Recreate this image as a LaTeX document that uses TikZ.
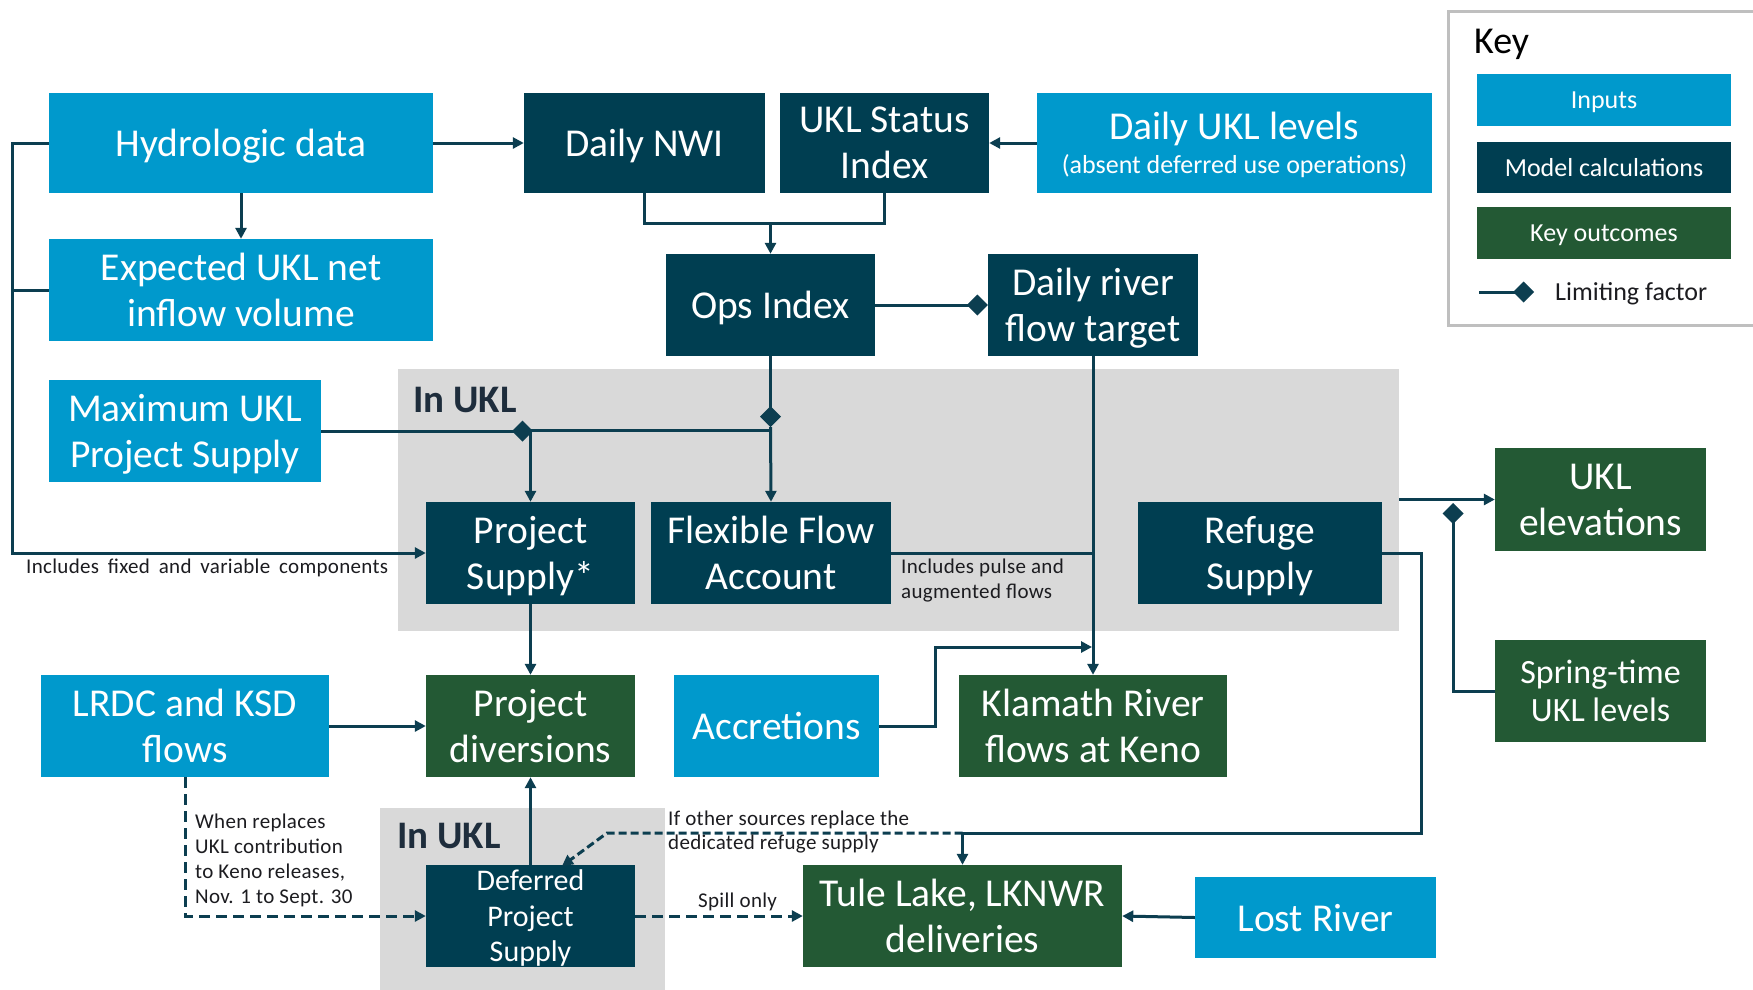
\documentclass[tikz,border=0pt]{standalone}
\usepackage{fontspec}
\setmainfont{Carlito}
\newfontfamily\notefam[LetterSpace=1.5]{Carlito}
\usetikzlibrary{arrows.meta}
\definecolor{inp}{RGB}{0,153,204}
\definecolor{calc}{RGB}{0,62,81}
\definecolor{outc}{RGB}{35,89,52}
\definecolor{ln}{RGB}{12,62,80}
\definecolor{grayarea}{RGB}{217,217,217}
\definecolor{keyframe}{RGB}{191,191,191}
\definecolor{notecol}{RGB}{28,28,32}
\definecolor{ukltxt}{RGB}{30,45,60}
\newcommand{\bigf}{\fontsize{39.5}{46}\selectfont}
\newcommand{\midf}{\fontsize{30}{35.5}\selectfont}
\newcommand{\sprf}{\fontsize{34}{38}\selectfont}
\newcommand{\subf}{\fontsize{26}{30}\selectfont}
\newcommand{\keyf}{\fontsize{26}{30}\selectfont}
\newcommand{\notef}{\notefam\fontsize{21}{25}\selectfont}
\newcommand{\uklf}{\fontsize{39}{44}\selectfont\bfseries}
\begin{document}
\begin{tikzpicture}[x=1pt,y=-1pt,
  nbox/.style={rectangle, inner sep=0pt, text=white, align=center, font=\bigf, text depth=0pt},
  inbox/.style={nbox, fill=inp},
  calcbox/.style={nbox, fill=calc},
  outbox/.style={nbox, fill=outc},
  regionbox/.style={rectangle, fill=grayarea, inner sep=0pt, anchor=north west},
  conn/.style={draw=ln, line width=3pt},
  arr/.style={conn, -{Triangle[length=11pt,width=11pt]}},
  lim/.style={conn, -{Diamond[length=21pt,width=21pt]}},
  dashA/.style={dash pattern=on 11pt off 6pt},
  dashB/.style={dash pattern=on 8pt off 4pt},
  notetxt/.style={anchor=base west, inner sep=0pt, font=\notef, text=notecol},
  ukllab/.style={anchor=base west, inner sep=0pt, font=\uklf, text=ukltxt}
]
\useasboundingbox (0,0) rectangle (1753,989);
\fill[white] (0,0) rectangle (1753,989);

% grey regions
\node[regionbox, minimum width=1001pt, minimum height=262pt] (g1) at (398,369) {};
\node[regionbox, minimum width=285pt, minimum height=185pt] (g2) at (380,808) {};
\node[ukllab] (ukl1) at (413,412) {In UKL};
\node[ukllab] (ukl2) at (397,848) {In UKL};

% key
\node[rectangle, draw=keyframe, line width=3pt, anchor=north west, minimum width=330pt, minimum height=314pt, inner sep=0pt] (keybox) at (1447,10) {};
\node[anchor=base west, inner sep=0pt, font=\fontsize{38}{42}\selectfont, text=black] (ktitle) at (1474,53) {Key};
\node[inbox, font=\keyf, minimum width=254pt, minimum height=52pt] (kin) at (1604,100) {Inputs};
\node[calcbox, font=\keyf, minimum width=254pt, minimum height=51pt] (kcalc) at (1604,167.5) {Model calculations};
\node[outbox, font=\keyf, minimum width=254pt, minimum height=52pt] (kout) at (1604,233) {Key outcomes};
\coordinate (kl1) at (1479,292);
\coordinate (kl2) at (1534,292);
\draw[lim] (kl1) -- (kl2);
\node[anchor=base west, inner sep=0pt, font=\keyf, text=notecol] (klab) at (1555,300) {Limiting factor};

% boxes
\node[inbox, minimum width=384pt, minimum height=100pt] (hyd) at (241,143) {Hydrologic data};
\node[inbox, minimum width=384pt, minimum height=102pt] (exp) at (241,290) {Expected UKL net\\inflow volume};
\node[inbox, minimum width=272pt, minimum height=102pt] (maxp) at (185,431) {Maximum UKL\\Project Supply};
\node[calcbox, minimum width=241pt, minimum height=100pt] (nwi) at (644.5,143) {Daily NWI};
\node[calcbox, minimum width=209pt, minimum height=100pt] (status) at (884.5,143) {UKL Status\\Index};
\node[inbox, minimum width=395pt, minimum height=100pt] (dukl) at (1234.5,143) {Daily UKL levels\\[-12pt]{\subf (absent deferred use operations)}};
\node[calcbox, minimum width=209pt, minimum height=102pt] (ops) at (770.5,305) {Ops Index};
\node[calcbox, minimum width=210pt, minimum height=102pt] (drf) at (1093,305) {Daily river\\flow target};
\node[calcbox, minimum width=209pt, minimum height=102pt] (psup) at (530.5,553) {Project\\Supply*};
\node[calcbox, minimum width=240pt, minimum height=102pt] (ffa) at (771,553) {Flexible Flow\\Account};
\node[calcbox, minimum width=244pt, minimum height=102pt] (refuge) at (1260,553) {Refuge\\Supply};
\node[outbox, minimum width=211pt, minimum height=103pt] (ukle) at (1600.5,499.5) {UKL\\elevations};
\node[outbox, font=\sprf, minimum width=211pt, minimum height=102pt] (spring) at (1600.5,691) {Spring-time\\UKL levels};
\node[inbox, minimum width=288pt, minimum height=102pt] (lrdc) at (185,726) {LRDC and KSD\\flows};
\node[outbox, minimum width=209pt, minimum height=102pt] (pdiv) at (530.5,726) {Project\\diversions};
\node[inbox, minimum width=205pt, minimum height=102pt] (accr) at (776.5,726) {Accretions};
\node[outbox, minimum width=268pt, minimum height=102pt] (keno) at (1093,726) {Klamath River\\flows at Keno};
\node[calcbox, font=\midf, minimum width=209pt, minimum height=102pt] (dps) at (530.5,916) {Deferred\\Project\\Supply};
\node[outbox, minimum width=319pt, minimum height=102pt] (tule) at (962.5,916) {Tule Lake, LKNWR\\deliveries};
\node[inbox, minimum width=241pt, minimum height=81pt] (lost) at (1315.5,917.5) {Lost River};

% connectors
\coordinate (lb) at (12,553);
\draw[arr] (hyd.west) -| (lb) -- (psup.west);
\draw[conn] (exp.west) -- (exp.west -| lb);
\draw[arr] (hyd.east) -- (nwi.west);
\draw[arr] (hyd.south) -- (exp.north);
\draw[arr] (dukl.west) -- (status.east);
\coordinate (j1) at (770.5,223);
\draw[conn] (nwi.south) |- (j1) -| (status.south);
\draw[arr] (j1) -- (ops.north);
\draw[lim] (ops.east) -- (drf.west);
\coordinate (dm1) at (770.5,427);
\coordinate (j2) at (770.5,430);
\draw[lim] (ops.south) -- (dm1);
\draw[arr] (dm1) -- (ffa.north);
\draw[arr] (j2) -| (psup.north);
\coordinate (dm2) at (533,431);
\draw[lim] (maxp.east) -- (dm2);
\draw[arr] (psup.south) -- (pdiv.north);
\draw[conn] (ffa.east) -- (ffa.east -| drf.south);
\draw[arr] (drf.south) -- (keno.north);
\draw[arr] (g1.east |- ukle.west) -- (ukle.west);
\coordinate (dm3) at (1453,503);
\draw[lim] (spring.west) -| (dm3);
\coordinate (r1) at (1421,833);
\draw[arr] (refuge.east) -| (r1) -| (tule.north);
\coordinate (r2) at (962.5,833);
\coordinate (r3) at (607,833);
\coordinate (r4) at (562,866);
\draw[arr, dashB] (r2) -- (r3) -- (r4);
\coordinate (a1) at (935,647);
\coordinate (a2) at (1092,647);
\draw[arr] (accr.east) -| (a1) -- (a2);
\draw[arr] (lrdc.east) -- (pdiv.west);
\draw[arr, dashA] (lrdc.south) |- (dps.west);
\draw[arr] (dps.north) -- (pdiv.south);
\draw[arr, dashA] (dps.east) -- (tule.west);
\draw[arr] (lost.west) -- (tule.east);

% notes
\node[notetxt] (n1) at (26,573) {\spaceskip=0.42em Includes fixed and variable components};
\node[notetxt] (n2a) at (901,573) {Includes pulse and};
\node[notetxt] (n2b) at (901,598) {augmented flows};
\node[notetxt] (n3a) at (195,828) {When replaces};
\node[notetxt] (n3b) at (195,853) {UKL contribution};
\node[notetxt] (n3c) at (195,878) {to Keno releases,};
\node[notetxt] (n3d) at (195,903) {Nov. 1 to Sept. 30};
\node[notetxt] (n4a) at (668,825) {If other sources replace the};
\node[notetxt] (n4b) at (668,849) {dedicated refuge supply};
\node[notetxt] (n5) at (698,907) {Spill only};
\end{tikzpicture}
\end{document}
